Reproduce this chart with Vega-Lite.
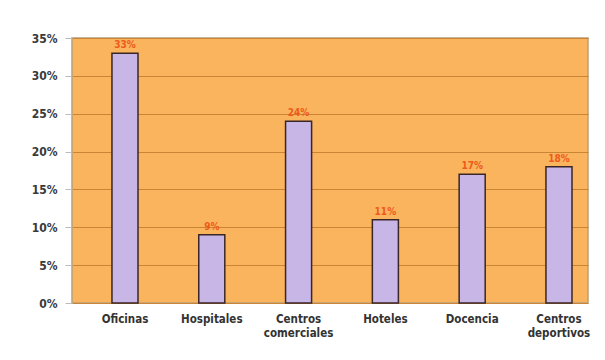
{
  "$schema": "https://vega.github.io/schema/vega-lite/v6.json",
  "autosize": {"type": "none"},
  "width": 516,
  "height": 265,
  "padding": {"left": 72, "top": 38, "right": 17, "bottom": 57},
  "background": "#ffffff",
  "data": {
    "values": [
      {"cat": "Oficinas", "v": 0.33},
      {"cat": "Hospitales", "v": 0.09},
      {"cat": "Centros comerciales", "v": 0.24},
      {"cat": "Hoteles", "v": 0.11},
      {"cat": "Docencia", "v": 0.17},
      {"cat": "Centros deportivos", "v": 0.18}
    ]
  },
  "encoding": {
    "x": {
      "field": "cat", "type": "nominal", "sort": null,
      "scale": {"paddingInner": 0.7, "paddingOuter": 0.3225, "align": 0.714},
      "axis": {
        "title": null, "labelAngle": 0, "domain": false, "ticks": false,
        "labelExpr": "split(datum.label, ' ')",
        "labelFont": "DejaVu Sans Condensed", "labelFontWeight": "bold",
        "labelFontSize": 11.5, "labelColor": "#333333", "labelPadding": 10,
        "labelLineHeight": 14
      }
    },
    "y": {
      "field": "v", "type": "quantitative",
      "scale": {"domain": [0, 0.35], "nice": false},
      "axis": {
        "title": null, "values": [0, 0.05, 0.1, 0.15, 0.2, 0.25, 0.3, 0.35],
        "format": ".0%",
        "labelFont": "DejaVu Sans Condensed", "labelFontWeight": "bold",
        "labelFontSize": 12, "labelColor": "#3a3a3a",
        "domain": false, "tickColor": "#bbbbbb", "tickSize": 7, "labelPadding": 8,
        "grid": true, "gridColor": "#C98535", "gridWidth": 1
      }
    }
  },
  "layer": [
    {
      "mark": {"type": "bar", "fill": "#C8B6E6", "stroke": "#3A2626", "strokeWidth": 1.5}
    },
    {
      "mark": {"type": "text", "dy": -8, "color": "#EE5A1A", "font": "DejaVu Sans Condensed", "fontWeight": "bold", "fontSize": 10},
      "encoding": {"text": {"field": "v", "type": "quantitative", "format": ".0%"}}
    }
  ],
  "config": {
    "view": {"fill": "#FAB45E", "stroke": "#B8A07C", "strokeWidth": 1.5}
  }
}
